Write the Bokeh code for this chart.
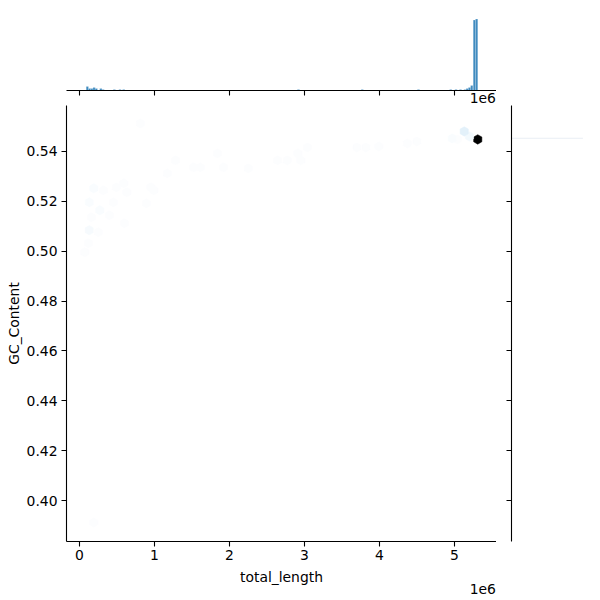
import colorsys
import math
import numpy as np
from bokeh.plotting import figure
from bokeh.layouts import column, row, Spacer
from bokeh.models import Range1d, FixedTicker, LinearAxis
from bokeh.embed import file_html
from bokeh.resources import INLINE

# ---------------- data ----------------
x_ticks = [0, 1e6, 2e6, 3e6, 4e6, 5e6]
x_tick_labels = ["0", "1", "2", "3", "4", "5"]
x_offset_text = "1e6"
y_ticks = [0.40, 0.42, 0.44, 0.46, 0.48, 0.50, 0.52, 0.54]
y_tick_labels = ["0.40", "0.42", "0.44", "0.46", "0.48", "0.50", "0.52", "0.54"]

# hexbin cells: centre (total_length, GC_Content) and count
hex_x = [5.31e6, 5.20e6, 5.13e6, 5.04e6, 4.97e6, 4.50e6, 4.37e6, 3.99e6, 3.82e6, 3.70e6,
         3.04e6, 2.95e6, 2.91e6, 2.77e6, 2.64e6, 2.25e6, 1.92e6, 1.84e6, 1.61e6, 1.52e6,
         1.28e6, 1.17e6, 0.95e6, 0.81e6, 0.99e6, 0.89e6,
         0.59e6, 0.49e6, 0.19e6, 0.32e6, 0.63e6, 0.13e6, 0.45e6, 0.27e6, 0.16e6, 0.40e6,
         0.60e6, 0.13e6, 0.25e6, 0.12e6, 0.07e6, 0.19e6]
hex_y = [0.5448, 0.5460, 0.5480, 0.5448, 0.5452, 0.5440, 0.5432, 0.5420, 0.5416, 0.5416,
         0.5416, 0.5364, 0.5392, 0.5364, 0.5364, 0.5332, 0.5336, 0.5392, 0.5336, 0.5336,
         0.5364, 0.5312, 0.5256, 0.5512, 0.5244, 0.5192,
         0.5272, 0.5256, 0.5252, 0.5244, 0.5236, 0.5196, 0.5196, 0.5164, 0.5136, 0.5144,
         0.5112, 0.5084, 0.5076, 0.5032, 0.4996, 0.3912]
hex_count = [140, 5, 10, 2, 3, 2, 2, 2, 2, 2,
             2, 2, 2, 2, 2, 2, 2, 2, 2, 2,
             2, 2, 2, 2, 2, 2,
             2, 2, 3, 2, 2, 3, 2, 3, 2, 2,
             2, 4, 2, 2, 2, 2]

# top marginal histogram of total_length
len_bin_center = [0.105e6, 0.135e6, 0.165e6, 0.195e6, 0.225e6, 0.285e6, 0.315e6,
                  0.465e6, 0.540e6, 0.590e6, 2.920e6, 3.770e6, 4.520e6, 4.950e6,
                  5.020e6, 5.080e6, 5.140e6, 5.170e6, 5.200e6, 5.230e6, 5.265e6, 5.295e6]
len_bin_count = [4, 2, 2, 3, 2, 2, 1,
                 1, 1, 1, 1, 1, 1, 1,
                 1, 1, 1, 2, 3, 5, 69, 70]
len_bin_width = 0.0305e6

# right marginal histogram of GC_Content
gc_bin_center = [0.5453]
gc_bin_count = [70]
gc_bin_height = 0.0004

# ---------------- styling helpers ----------------
FONT = "DejaVu Sans"
FS = "13.9px"
FRAME_W, FRAME_H, MARG = 430, 436, 75
base_rgb = (31 / 255, 119 / 255, 180 / 255)
h, l0, s = colorsys.rgb_to_hls(*base_rgb)
cmin, cmax = 1, max(hex_count)


def hex_color(c):
    lum = 1 - (c - cmin) / (cmax - cmin)
    r, g, b = colorsys.hls_to_rgb(h, lum, s)
    return "#%02x%02x%02x" % (int(round(r * 255)), int(round(g * 255)), int(round(b * 255)))


hex_colors = [hex_color(c) for c in hex_count]

x_range = Range1d(-0.173e6, 5.56e6)
y_range = Range1d(0.3836, 0.5584)
# position (in data units) of the "1e6" offset text: 12.5 px left of the axis end
offset_pos = int(round(x_range.end - 12.5 * (x_range.end - x_range.start) / FRAME_W))


def style_axis(ax):
    ax.axis_line_color = "black"
    ax.axis_line_width = 1.1
    ax.major_tick_line_color = "black"
    ax.major_tick_line_width = 1.1
    ax.major_tick_out = 5
    ax.major_tick_in = 0
    ax.minor_tick_line_color = None
    ax.major_label_text_font = FONT
    ax.major_label_text_font_size = FS
    ax.major_label_text_color = "black"
    ax.axis_label_text_font = FONT
    ax.axis_label_text_font_size = FS
    ax.axis_label_text_font_style = "normal"
    ax.axis_label_text_color = "black"


def minor_only(ax):
    # draw the ticks as (label-less) minor ticks
    ax.major_tick_line_color = None
    ax.major_tick_out = 0
    ax.minor_tick_line_color = "black"
    ax.minor_tick_line_width = 1.1
    ax.minor_tick_out = 5
    ax.minor_tick_in = 0


# ---------------- main joint plot ----------------
p = figure(frame_width=FRAME_W, frame_height=FRAME_H, x_range=x_range, y_range=y_range,
           output_backend="svg", toolbar_location=None,
           min_border_left=66, min_border_right=0, min_border_top=0, min_border_bottom=59)
p.outline_line_color = None
p.grid.visible = False
p.scatter(hex_x, hex_y, marker="hex", size=9.5, angle=math.pi / 2,
          fill_color=hex_colors, line_color=hex_colors, line_width=0.5)

p.xaxis.ticker = FixedTicker(ticks=x_ticks)
p.xaxis.major_label_overrides = {t: lab for t, lab in zip(x_ticks, x_tick_labels)}
p.yaxis.ticker = FixedTicker(ticks=y_ticks)
p.yaxis.major_label_overrides = {t: lab for t, lab in zip(y_ticks, y_tick_labels)}
for ax in (p.xaxis[0], p.yaxis[0]):
    style_axis(ax)
p.xaxis.axis_label = "total_length"
p.yaxis.axis_label = "GC_Content"
p.xaxis.major_label_standoff = 3
p.xaxis.axis_label_standoff = 6
p.yaxis.major_label_standoff = 4
p.yaxis.axis_label_standoff = 2

# offset text of the main x axis (under the axis, at its right end)
off_ax = LinearAxis(ticker=FixedTicker(ticks=[offset_pos]),
                    major_label_overrides={offset_pos: x_offset_text})
style_axis(off_ax)
off_ax.axis_line_color = None
off_ax.major_tick_line_color = None
off_ax.major_tick_out = 0
off_ax.major_label_standoff = -4
p.add_layout(off_ax, "below")

# ---------------- top marginal ----------------
pt = figure(frame_width=FRAME_W, frame_height=MARG, x_range=x_range,
            y_range=Range1d(0, max(len_bin_count) * 1.05),
            output_backend="svg", toolbar_location=None, y_axis_location=None,
            min_border_left=66, min_border_right=0, min_border_top=15, min_border_bottom=15)
pt.outline_line_color = None
pt.grid.visible = False
lc = np.array(len_bin_center)
pt.quad(left=lc - len_bin_width / 2, right=lc + len_bin_width / 2, bottom=0, top=len_bin_count,
        fill_color="#1f77b4", fill_alpha=0.85, line_color="white", line_width=0.2)
# ticks drawn as minor ticks; the single (tick-less) major tick carries the "1e6" text
pt.xaxis.ticker = FixedTicker(ticks=[offset_pos], minor_ticks=x_ticks)
pt.xaxis.major_label_overrides = {offset_pos: x_offset_text}
style_axis(pt.xaxis[0])
minor_only(pt.xaxis[0])
pt.xaxis.major_label_standoff = -3

# ---------------- right marginal ----------------
pr = figure(frame_width=MARG, frame_height=FRAME_H, y_range=y_range,
            x_range=Range1d(0, max(gc_bin_count) * 1.05),
            output_backend="svg", toolbar_location=None, x_axis_location=None,
            min_border_left=15, min_border_right=0, min_border_top=0, min_border_bottom=59)
pr.outline_line_color = None
pr.grid.visible = False
gc = np.array(gc_bin_center)
pr.quad(left=0, right=gc_bin_count, bottom=gc - gc_bin_height / 2, top=gc + gc_bin_height / 2,
        fill_color="#e9eef4", line_color=None)
pr.yaxis.ticker = FixedTicker(ticks=[], minor_ticks=y_ticks)
style_axis(pr.yaxis[0])
minor_only(pr.yaxis[0])
pr.yaxis.major_label_standoff = 0

layout = column(row(pt, Spacer(width=90, height=105)), row(p, pr))

with open("out.html", "w") as f:
    f.write(file_html(layout, INLINE))
